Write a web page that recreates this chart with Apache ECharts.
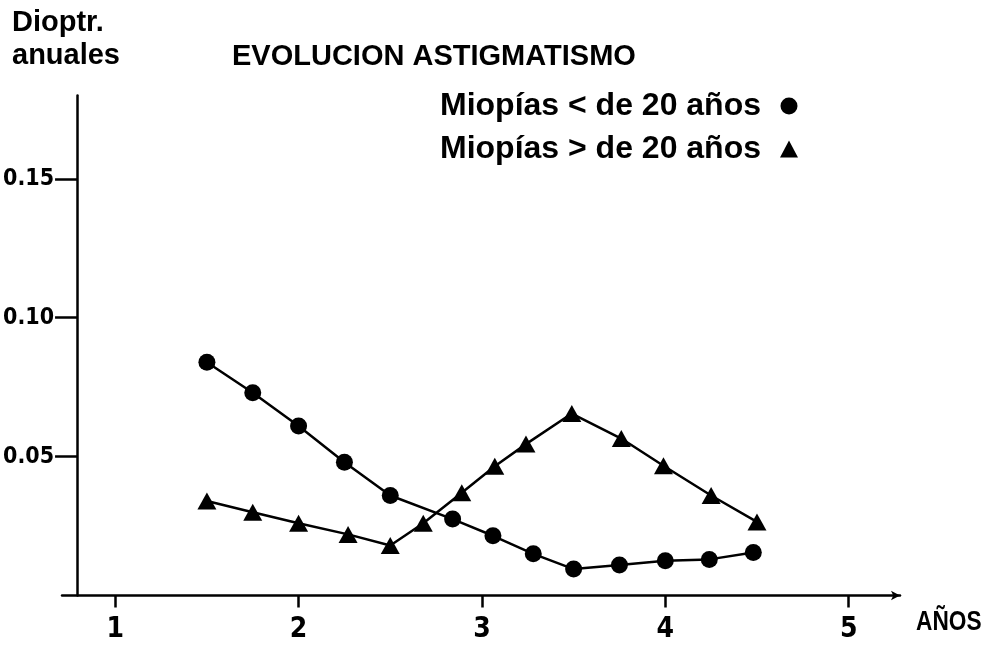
<!DOCTYPE html>
<html>
<head>
<meta charset="utf-8">
<script src="https://cdn.jsdelivr.net/npm/echarts@6/dist/echarts.min.js"></script>
<style>
html,body{margin:0;padding:0;background:#fff;}
#chart{width:983px;height:645px;}
</style>
</head>
<body>
<div id="chart"></div>
<script>
// ---- data ----
const chartTitle = 'EVOLUCION ASTIGMATISMO';
const yAxisName = ['Dioptr.', 'anuales'];
const xAxisName = 'AÑOS';
const seriesNames = ['Miopías < de 20 años', 'Miopías > de 20 años'];
const xTicks = [1, 2, 3, 4, 5];
const yTicks = [0.05, 0.10, 0.15];

const circleX = [1.5, 1.75, 2.0, 2.25, 2.5, 2.84, 3.06, 3.28, 3.5, 3.75, 4.0, 4.24, 4.48];
const circleY = [0.084, 0.073, 0.061, 0.048, 0.036, 0.0275, 0.0215, 0.015, 0.0095, 0.011, 0.0125, 0.013, 0.0155];

const triX = [1.5, 1.75, 2.0, 2.27, 2.5, 2.68, 2.89, 3.07, 3.24, 3.49, 3.76, 3.99, 4.25, 4.5];
const triY = [0.034, 0.030, 0.026, 0.022, 0.018, 0.026, 0.037, 0.0465, 0.0545, 0.0655, 0.0565, 0.0467, 0.036, 0.0265];

const pairs = (xs, ys) => xs.map((x, i) => [x, ys[i]]);

const FONT = "'Liberation Sans', Arial, sans-serif";
const NARROW = "'Liberation Sans Narrow', 'DejaVu Sans Condensed', 'Liberation Sans', sans-serif";
const INK = '#000';

const chart = echarts.init(document.getElementById('chart'), null, {renderer: 'canvas'});

chart.setOption({
  animation: false,
  backgroundColor: '#fff',
  title: {
    text: chartTitle,
    left: 232,
    top: 42,
    padding: 0,
    textStyle: {fontFamily: FONT, fontWeight: 'bold', fontSize: 29, color: INK}
  },
  legend: {
    orient: 'vertical',
    left: 440,
    top: 90,
    padding: 0,
    align: 'right',
    itemGap: 11,
    itemWidth: 18,
    itemHeight: 17,
    selectedMode: false,
    textStyle: {fontFamily: FONT, fontWeight: 'bold', fontSize: 32, color: INK, padding: [0, 14, 0, 0]},
    data: [
      {name: seriesNames[0], icon: 'circle', itemStyle: {color: INK}},
      {name: seriesNames[1], icon: 'triangle', itemStyle: {color: INK}}
    ]
  },
  grid: {left: 62, right: 83, top: 95.5, bottom: 49.5, containLabel: false},
  xAxis: {
    type: 'value',
    min: 0.71,
    max: 5.28,
    splitLine: {show: false},
    axisLine: {
      onZero: false,
      lineStyle: {color: INK, width: 2.5},
      symbol: ['none', 'arrow'],
      symbolSize: [7, 9]
    },
    axisTick: {show: true, length: 12, lineStyle: {color: INK, width: 2.5}, customValues: xTicks},
    axisLabel: {
      customValues: xTicks,
      margin: 20,
      fontFamily: NARROW,
      fontWeight: 'bold',
      fontSize: 28,
      color: INK,
      formatter: v => String(Math.round(v))
    }
  },
  yAxis: {
    type: 'value',
    min: 0,
    max: 0.18,
    offset: -15,
    splitLine: {show: false},
    axisLine: {show: true, lineStyle: {color: INK, width: 2.5}},
    axisTick: {show: true, length: 22, lineStyle: {color: INK, width: 2.5}, customValues: yTicks},
    axisLabel: {
      customValues: yTicks,
      margin: 23,
      fontFamily: NARROW,
      fontWeight: 'bold',
      fontSize: 23,
      color: INK,
      formatter: v => v.toFixed(2)
    }
  },
  graphic: [
    {
      type: 'text',
      left: 12,
      top: 6,
      style: {
        text: yAxisName.join('\n'),
        fontFamily: FONT,
        fontWeight: 'bold',
        fontSize: 29,
        lineHeight: 33,
        fill: INK
      }
    },
    {
      type: 'text',
      x: 916,
      y: 609,
      scaleX: 0.84,
      style: {
        text: xAxisName,
        fontFamily: FONT,
        fontWeight: 'bold',
        fontSize: 27,
        fill: INK
      }
    }
  ],
  series: [
    {
      name: seriesNames[0],
      type: 'line',
      data: pairs(circleX, circleY),
      symbol: 'circle',
      symbolSize: 17,
      showAllSymbol: true,
      lineStyle: {color: INK, width: 2.5},
      itemStyle: {color: INK, borderWidth: 0},
      z: 3
    },
    {
      name: seriesNames[1],
      type: 'line',
      data: pairs(triX, triY),
      symbol: 'triangle',
      symbolSize: [19, 17],
      showAllSymbol: true,
      lineStyle: {color: INK, width: 2.5},
      itemStyle: {color: INK, borderWidth: 0},
      z: 3
    }
  ]
});
</script>
</body>
</html>
